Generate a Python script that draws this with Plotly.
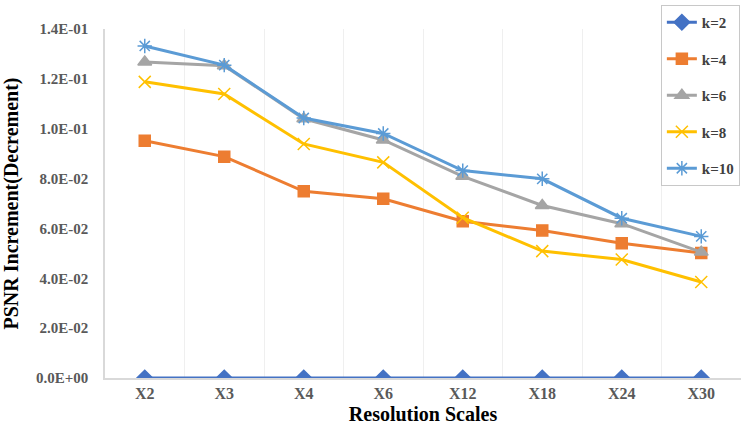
import plotly.graph_objects as go

categories = ["X2", "X3", "X4", "X6", "X12", "X18", "X24", "X30"]
k2 = [0, 0, 0, 0, 0, 0, 0, 0]
k4 = [0.0952, 0.0888, 0.0749, 0.0719, 0.0629, 0.0592, 0.0541, 0.0501]
k6 = [0.1268, 0.1253, 0.1040, 0.0955, 0.0809, 0.0692, 0.0619, 0.0505]
k8 = [0.1188, 0.1139, 0.0939, 0.0865, 0.0643, 0.0509, 0.0475, 0.0385]
k10 = [0.1332, 0.1255, 0.1043, 0.0981, 0.0832, 0.0799, 0.0641, 0.0568]
y_ticks = [0, 0.02, 0.04, 0.06, 0.08, 0.10, 0.12, 0.14]

series = [
    ("k=2", k2, "#4472C4", "diamond", 12),
    ("k=4", k4, "#ED7D31", "square", 11),
    ("k=6", k6, "#A5A5A5", "triangle-up", 12),
    ("k=8", k8, "#FFC000", "x-thin-open", 12),
    ("k=10", k10, "#5B9BD5", "asterisk-open", 12),
]

fig = go.Figure()
for name, vals, color, sym, sz in series:
    fig.add_trace(go.Scatter(
        x=categories, y=vals, name=name, mode="lines+markers",
        legendgroup=name,
        line=dict(color=color, width=3),
        marker=dict(symbol=sym, size=sz, color=color,
                    line=dict(color=color, width=1.5)),
    ))

font_family = "Liberation Serif, Times New Roman, serif"
fig.update_layout(
    width=747, height=435,
    margin=dict(l=105, r=6, t=28, b=57),
    paper_bgcolor="white", plot_bgcolor="white",
    font=dict(family=font_family),
    showlegend=True,
    legend=dict(
        x=0.874, y=1.0657, xanchor="left", yanchor="top",
        bgcolor="white", bordercolor="#c8c8c8", borderwidth=1,
        font=dict(family=font_family, size=15, color="#404040", weight="bold"),
        itemwidth=30, tracegroupgap=14,
    ),
    xaxis=dict(
        type="category", range=[-0.5, 7.5], automargin=False,
        tickson="boundaries", showgrid=True, gridcolor="#efefef", gridwidth=1,
        showline=True, linecolor="#d9d9d9", linewidth=1.5,
        ticks="outside", ticklen=8, tickcolor="rgba(0,0,0,0)",
        tickfont=dict(family=font_family, size=16, color="#595959", weight="bold"),
        title=dict(text="Resolution Scales", standoff=6,
                   font=dict(family=font_family, size=20, color="black", weight="bold")),
        zeroline=False, fixedrange=True,
    ),
    yaxis=dict(
        range=[0, 0.14], tickvals=y_ticks, automargin=False,
        ticktext=[f"{v:.1E}" for v in y_ticks],
        showgrid=False, zeroline=False,
        showline=True, linecolor="#d9d9d9", linewidth=1.5,
        ticks="outside", ticklen=12, tickcolor="rgba(0,0,0,0)",
        tickfont=dict(family=font_family, size=15, color="#595959", weight="bold"),
        title=dict(text="PSNR Increment(Decrement)", standoff=12,
                   font=dict(family=font_family, size=20, color="black", weight="bold")),
        fixedrange=True,
    ),
)

fig.write_html("out.html", config={"displayModeBar": False},
               post_script="document.body.style.margin='0';")
